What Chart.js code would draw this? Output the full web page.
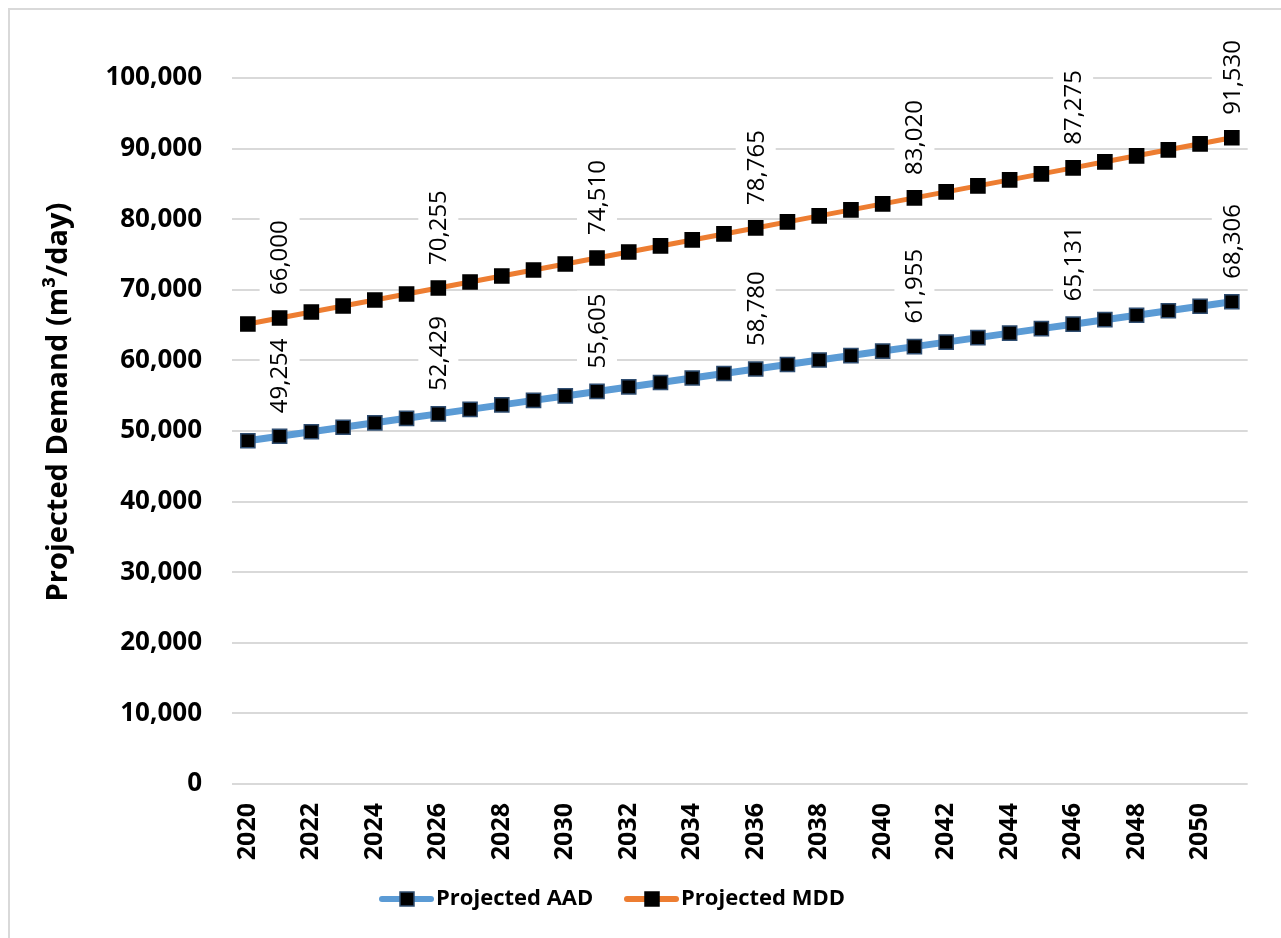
<!DOCTYPE html>
<html>
<head>
<meta charset="utf-8">
<title>Projected Demand</title>
<script src="https://cdn.jsdelivr.net/npm/chart.js@4.4.0/dist/chart.umd.min.js"></script>
<style>
  html, body { margin: 0; padding: 0; background: #fff; }
  #wrap { position: relative; width: 1281px; height: 938px; }
</style>
</head>
<body>
<div id="wrap"><canvas id="demandChart"></canvas></div>
<script>
// ── Data ─────────────────────────────────────────────────────────

const years = [
    '2020', '2021', '2022', '2023', '2024', '2025', '2026', '2027',
    '2028', '2029', '2030', '2031', '2032', '2033', '2034', '2035',
    '2036', '2037', '2038', '2039', '2040', '2041', '2042', '2043',
    '2044', '2045', '2046', '2047', '2048', '2049', '2050', '2051',
];

// Projected average annual demand (m3/day)
const aadValues = [
    48619, 49254, 49889, 50524, 51159, 51794, 52429, 53065,
    53700, 54335, 54970, 55605, 56240, 56875, 57510, 58145,
    58780, 59415, 60050, 60685, 61320, 61955, 62590, 63225,
    63860, 64496, 65131, 65766, 66401, 67036, 67671, 68306,
];

// Projected maximum daily demand (m3/day)
const mddValues = [
    65149, 66000, 66851, 67702, 68553, 69404, 70255, 71106,
    71957, 72808, 73659, 74510, 75361, 76212, 77063, 77914,
    78765, 79616, 80467, 81318, 82169, 83020, 83871, 84722,
    85573, 86424, 87275, 88126, 88977, 89828, 90679, 91530,
];

// Years that carry a value label
const labelledYears = ['2021', '2026', '2031', '2036', '2041', '2046', '2051'];

const yMin = 0;
const yMax = 100000;
const yStep = 10000;

const yTitle = 'Projected Demand (m\u00B3/day)';

// ── Helpers ──────────────────────────────────────────────────────

const FONT = '"Open Sans", "Noto Sans", sans-serif';
const fmt = (v) => Math.round(v).toLocaleString('en-US');

// ── Plugins ──────────────────────────────────────────────────────

// White page with the light frame at the top-left
const framePlugin = {
    id: 'frame',
    beforeDraw(chart) {
        const ctx = chart.ctx;
        ctx.save();
        ctx.fillStyle = '#fff';
        ctx.fillRect(0, 0, chart.width, chart.height);
        ctx.strokeStyle = '#d9d9d9';
        ctx.lineWidth = 2;
        ctx.beginPath();
        ctx.moveTo(9, chart.height);
        ctx.lineTo(9, 9);
        ctx.lineTo(chart.width, 9);
        ctx.stroke();
        ctx.restore();
    },
};

// Rotated value labels with a white box behind them
const valueLabelPlugin = {
    id: 'valueLabels',
    afterDatasetsDraw(chart) {
        const ctx = chart.ctx;
        ctx.save();
        ctx.font = `24px ${FONT}`;
        chart.data.datasets.forEach((ds, di) => {
            const meta = chart.getDatasetMeta(di);
            chart.data.labels.forEach((year, i) => {
                if (!labelledYears.includes(year)) return;
                const pt = meta.data[i];
                if (!pt) return;
                const text = fmt(ds.data[i]);
                const w = ctx.measureText(text).width;
                ctx.save();
                ctx.translate(pt.x, pt.y - 23);
                ctx.rotate(-Math.PI / 2);
                ctx.fillStyle = '#fff';
                ctx.fillRect(-3, -20, w + 6, 40);
                ctx.fillStyle = '#000';
                ctx.textAlign = 'left';
                ctx.textBaseline = 'middle';
                ctx.fillText(text, 0, 1);
                ctx.restore();
            });
        });
        ctx.restore();
    },
};

// Y axis title, rotated
const yTitlePlugin = {
    id: 'yTitle',
    afterDraw(chart) {
        const ctx = chart.ctx;
        ctx.save();
        ctx.translate(59, 402);
        ctx.rotate(-Math.PI / 2);
        ctx.font = `bold 29px ${FONT}`;
        ctx.fillStyle = '#000';
        ctx.textAlign = 'center';
        ctx.textBaseline = 'middle';
        ctx.fillText(yTitle, 0, 0);
        ctx.restore();
    },
};

// Legend: line with a square marker, then the series name
const legendPlugin = {
    id: 'lineLegend',
    afterDraw(chart) {
        const ctx = chart.ctx;
        const y = 899;
        const starts = [382, 627];
        ctx.save();
        chart.data.datasets.forEach((ds, i) => {
            const x = starts[i];
            ctx.strokeStyle = ds.borderColor;
            ctx.lineWidth = 6;
            ctx.lineCap = 'round';
            ctx.beginPath();
            ctx.moveTo(x, y);
            ctx.lineTo(x + 49, y);
            ctx.stroke();
            ctx.fillStyle = '#000';
            ctx.fillRect(x + 18, y - 7, 14, 14);
            ctx.strokeStyle = ds.pointBorderColor;
            ctx.lineWidth = 1.5;
            ctx.strokeRect(x + 18, y - 7, 14, 14);
            ctx.font = `bold 22px ${FONT}`;
            ctx.fillStyle = '#000';
            ctx.textAlign = 'left';
            ctx.textBaseline = 'middle';
            ctx.fillText(ds.label, x + 54, y);
        });
        ctx.restore();
    },
};

// ── Chart ────────────────────────────────────────────────────────

new Chart(document.getElementById('demandChart'), {
    type: 'line',
    plugins: [framePlugin, valueLabelPlugin, yTitlePlugin, legendPlugin],
    data: {
        labels: years,
        datasets: [
            {
                label: 'Projected AAD',
                data: aadValues,
                borderColor: '#5b9bd5',
                borderWidth: 7,
                pointStyle: 'rect',
                pointRadius: 10,
                pointBackgroundColor: '#000',
                pointBorderColor: '#2f4d70',
                pointBorderWidth: 1.5,
                tension: 0,
            },
            {
                label: 'Projected MDD',
                data: mddValues,
                borderColor: '#ed7d31',
                borderWidth: 5,
                pointStyle: 'rect',
                pointRadius: 10,
                pointBackgroundColor: '#000',
                pointBorderColor: '#000',
                pointBorderWidth: 1.5,
                tension: 0,
            },
        ],
    },
    options: {
        responsive: true,
        maintainAspectRatio: false,
        animation: false,
        devicePixelRatio: 1,
        layout: { padding: { left: 0, right: 9, top: 78, bottom: 64 } },
        plugins: {
            legend: { display: false },
            tooltip: { enabled: false },
        },
        scales: {
            y: {
                min: yMin,
                max: yMax,
                afterFit: (s) => { s.width = 232; },
                ticks: {
                    stepSize: yStep,
                    padding: 30,
                    color: '#000',
                    font: { family: FONT, size: 26, weight: 'bold' },
                    callback: (v) => fmt(v),
                },
                grid: { color: '#d9d9d9', lineWidth: 2, drawTicks: false },
                border: { display: false },
            },
            x: {
                offset: true,
                afterFit: (s) => { s.height = 90; },
                ticks: {
                    autoSkip: false,
                    minRotation: 90,
                    maxRotation: 90,
                    padding: 19,
                    color: '#000',
                    font: { family: FONT, size: 25, weight: 'bold' },
                    callback: (v, i) => (i % 2 === 0 ? years[i] : ''),
                },
                grid: { display: false, drawTicks: false },
                border: { display: false },
            },
        },
    },
});
</script>
</body>
</html>
